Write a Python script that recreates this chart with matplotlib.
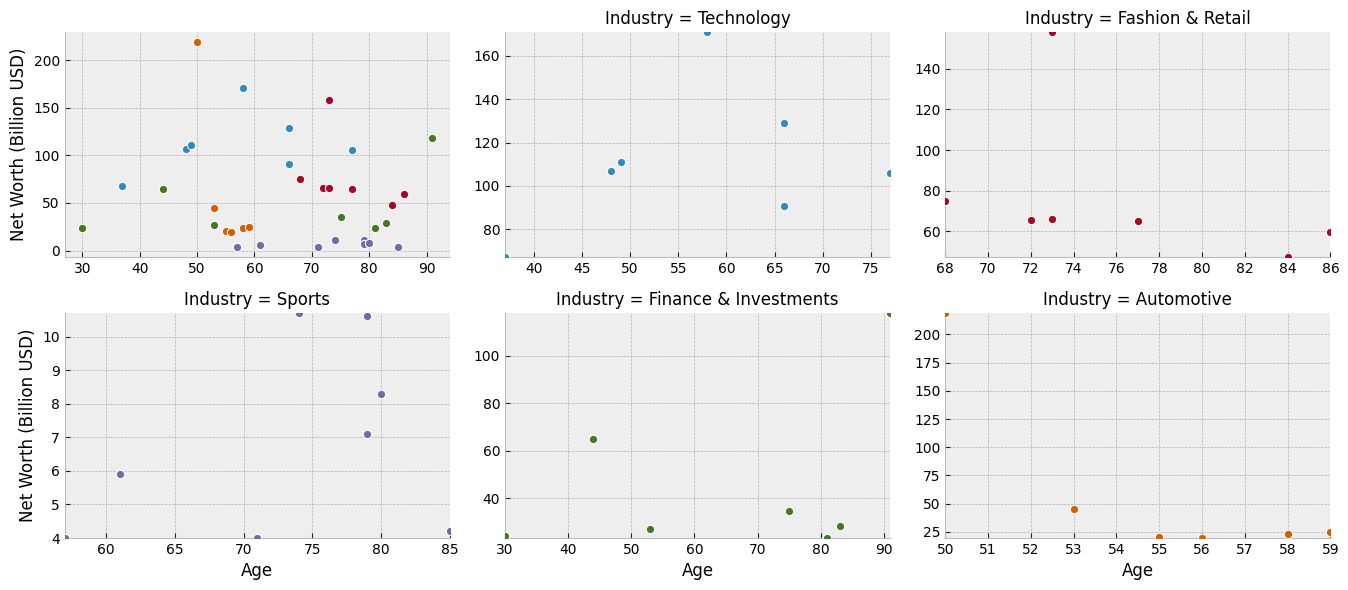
import numpy as np
import matplotlib
matplotlib.use("Agg")
import matplotlib.pyplot as plt

industries = ["Technology", "Fashion & Retail", "Sports", "Finance & Investments", "Automotive"]

tech_age = [37, 48, 49, 58, 66, 66, 77]
tech_worth = [67.3, 107, 111, 171, 129, 91, 106]

fashion_age = [68, 72, 73, 73, 77, 84, 86]
fashion_worth = [75, 65.5, 158, 66, 65, 47.5, 59.7]

sports_age = [57, 61, 71, 74, 79, 79, 80, 85]
sports_worth = [4.0, 5.9, 4.0, 10.7, 10.6, 7.1, 8.3, 4.2]

finance_age = [30, 44, 53, 75, 81, 83, 91]
finance_worth = [24, 64.8, 27.3, 34.8, 23.3, 28.5, 118]

auto_age = [50, 53, 55, 56, 58, 59]
auto_worth = [219, 45, 20.5, 19.5, 23.2, 24.5]

ages = [tech_age, fashion_age, sports_age, finance_age, auto_age]
worths = [tech_worth, fashion_worth, sports_worth, finance_worth, auto_worth]

plt.style.use("bmh")
colors = plt.rcParams["axes.prop_cycle"].by_key()["color"]

fig, axes = plt.subplots(2, 3, figsize=(13.48, 5.9), dpi=100)
fig.subplots_adjust(left=0.048, right=0.987, top=0.946, bottom=0.088,
                    wspace=0.143, hspace=0.249)
axes = axes.ravel()


def style(ax):
    ax.set_facecolor("#eeeeee")
    ax.grid(True, color="#b2b2b2", linestyle="--", linewidth=0.5)
    ax.set_axisbelow(True)
    for s in ["top", "right"]:
        ax.spines[s].set_visible(False)
    for s in ["left", "bottom"]:
        ax.spines[s].set_color("#bcbcbc")
    ax.tick_params(labelsize=10, colors="#222222", labelcolor="black")


# overview of all industries
ax = axes[0]
style(ax)
for i in range(len(industries)):
    ax.scatter(ages[i], worths[i], s=36, color=colors[i], edgecolor="white",
               linewidth=0.75, zorder=3)

# one panel per industry, limits tight to the data
for i, name in enumerate(industries):
    ax = axes[i + 1]
    style(ax)
    ax.scatter(ages[i], worths[i], s=36, color=colors[i], edgecolor="white",
               linewidth=0.75, zorder=3, clip_on=True)
    ax.set_xlim(min(ages[i]), max(ages[i]))
    ax.set_ylim(min(worths[i]), max(worths[i]))
    ax.set_title("Industry = " + name, fontsize=12)

for ax in [axes[0], axes[3]]:
    ax.set_ylabel("Net Worth (Billion USD)", fontsize=12)
for ax in axes[3:]:
    ax.set_xlabel("Age", fontsize=12)

fig.savefig("out.png", dpi=100, facecolor="white")
